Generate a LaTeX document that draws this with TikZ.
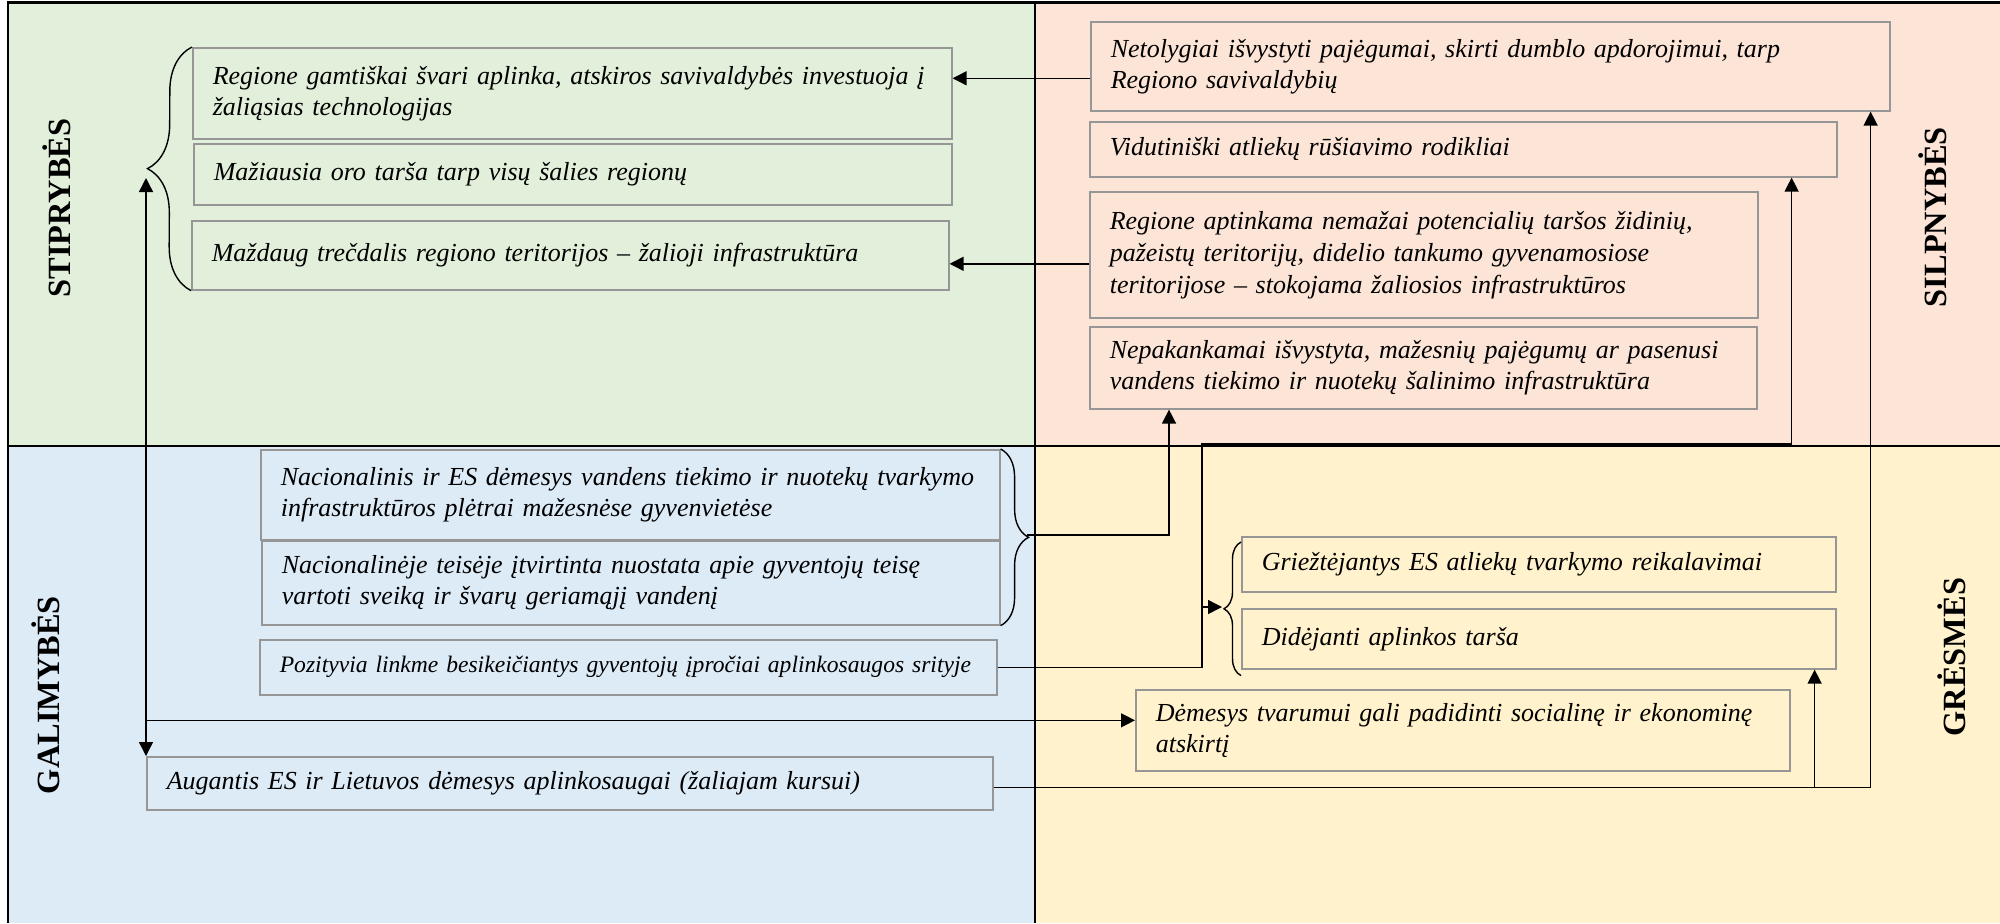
\documentclass[tikz,border=0pt]{standalone}
\usepackage{fontspec}
\setmainfont{Liberation Serif}
\usetikzlibrary{positioning,arrows.meta,decorations.pathreplacing,calc}
\definecolor{strengthgreen}{RGB}{226,239,218}
\definecolor{weakpink}{RGB}{252,228,214}
\definecolor{opporblue}{RGB}{221,235,247}
\definecolor{threatyellow}{RGB}{255,242,204}
\definecolor{boxgray}{RGB}{150,150,150}

\begin{document}
\begin{tikzpicture}[x=0.5pt,y=-0.5pt,
    item/.style={rectangle,draw=boxgray,line width=0.8pt,anchor=north west,inner xsep=10pt,inner ysep=0pt,align=left,font=\fontsize{13}{15.5}\selectfont\itshape},
    smallitem/.style={item,font=\fontsize{11.8}{14}\selectfont\itshape},
    heading/.style={rotate=90,font=\fontsize{16.2}{19}\selectfont\bfseries},
    link/.style={-{Triangle[length=7pt,width=7pt]},line width=0.7pt},
    twoway/.style={{Triangle[length=7pt,width=7pt]}-{Triangle[length=7pt,width=7pt]},line width=0.7pt},
    curly/.style={decorate,decoration={brace,amplitude=#1},line width=0.7pt}
]
    \useasboundingbox (0,0) rectangle (2000,923);
    % Quadrants
    \fill[strengthgreen] (8,3) rectangle (1035,446);
    \fill[weakpink] (1035,3) rectangle (2000,446);
    \fill[opporblue] (8,446) rectangle (1035,923);
    \fill[threatyellow] (1035,446) rectangle (2000,923);
    \draw[line width=1.3pt] (8,923) -- (8,2.5) -- (2000,2.5);
    \draw[line width=1.2pt] (1035,2.5) -- (1035,923);
    \draw[line width=1.2pt] (8,446) -- (2000,446);

    \node[heading] (hS) at (57,208) {STIPRYBĖS};
    \node[heading] (hW) at (1933,217) {SILPNYBĖS};
    \node[heading] (hO) at (46,695) {GALIMYBĖS};
    \node[heading] (hT) at (1952,657) {GRĖSMĖS};

    % Stiprybes
    \node[item,text width=359.5pt,minimum height=45.5pt] (S1) at (192,47) {Regione gamtiškai švari aplinka, atskiros savivaldybės investuoja į\\žaliąsias technologijas};
    \node[item,text width=359pt,minimum height=30.5pt] (S2) at (193,143) {Mažiausia oro tarša tarp visų šalies regionų};
    \node[item,text width=358.5pt,minimum height=34.5pt] (S3) at (191,220) {Maždaug trečdalis regiono teritorijos – žalioji infrastruktūra};

    % Silpnybes
    \node[item,text width=379.5pt,minimum height=44.5pt] (W1) at (1090,21) {Netolygiai išvystyti pajėgumai, skirti dumblo apdorojimui, tarp\\Regiono savivaldybių};
    \node[item,text width=353.5pt,minimum height=27.5pt] (W2) at (1089,121) {Vidutiniški atliekų rūšiavimo rodikliai};
    \node[item,text width=314pt,minimum height=63pt,font=\fontsize{13}{16}\selectfont\itshape] (W3) at (1089,191) {Regione aptinkama nemažai potencialių taršos židinių,\\pažeistų teritorijų, didelio tankumo gyvenamosiose\\teritorijose – stokojama žaliosios infrastruktūros};
    \node[item,text width=313.5pt,minimum height=41pt] (W4) at (1089,326) {Nepakankamai išvystyta, mažesnių pajėgumų ar pasenusi\\vandens tiekimo ir nuotekų šalinimo infrastruktūra};

    % Galimybes
    \node[item,text width=349.5pt,minimum height=45pt] (O1) at (260,449) {Nacionalinis ir ES dėmesys vandens tiekimo ir nuotekų tvarkymo\\infrastruktūros plėtrai mažesnėse gyvenvietėse};
    \node[item,text width=349pt,minimum height=42pt] (O2) at (261,540) {Nacionalinėje teisėje įtvirtinta nuostata apie gyventojų teisę\\vartoti sveiką ir švarų geriamąjį vandenį};
    \node[smallitem,text width=348.5pt,minimum height=27.5pt] (O3) at (259,639) {Pozityvia linkme besikeičiantys gyventojų įpročiai aplinkosaugos srityje};
    \node[item,text width=403pt,minimum height=26.5pt] (O4) at (146,756) {Augantis ES ir Lietuvos dėmesys aplinkosaugai (žaliajam kursui)};

    % Gresmes
    \node[item,text width=277pt,minimum height=27.5pt] (T1) at (1241,536) {Griežtėjantys ES atliekų tvarkymo reikalavimai};
    \node[item,text width=277pt,minimum height=30pt] (T2) at (1241,608) {Didėjanti aplinkos tarša};
    \node[item,text width=307pt,minimum height=40.5pt] (T3) at (1135,689) {Dėmesys tvarumui gali padidinti socialinę ir ekonominę\\atskirtį};

    % Braces
    \draw[curly=22pt] (S3.south west) -- (S1.north west);
    \draw[curly=14pt] (O1.north east) -- (O2.south east);
    \draw[curly=8.5pt] ([yshift=-3pt]T1.north west |- T2.south west) -- ([yshift=-3pt]T1.north west);
    \coordinate (stip) at (146,178);
    \coordinate (otip) at (1027,535);
    \coordinate (ttip) at (1222,607);
    \coordinate (pjn) at (1202,444);
    \coordinate (w4in) at ([xshift=40pt]W4.south west);
    \coordinate (w2in) at ([xshift=-23pt]W2.south east);
    \coordinate (w1in) at ([xshift=-10pt]W1.south east);
    \coordinate (t2in) at ([xshift=-11pt]T2.south east);
    \coordinate (aug) at ([yshift=-2pt]O4.east);

    % Connectors
    \draw[link] ([yshift=-6pt]W1.west) -- ([yshift=-6pt]W1.west -| S1.east);
    \draw[link] ([yshift=-4.5pt]W3.west) -- ([yshift=-4.5pt]W3.west -| S3.east);
    \draw[twoway] (stip) -- (O4.north west);
    \draw[link] ([yshift=5pt]T3.west -| O4.north west) -- ([yshift=5pt]T3.west);
    \draw[link] (otip) -| (w4in);
    \draw[link] (O3.east) -| (pjn) -| (w2in);
    \draw[link] (ttip -| pjn) -- (ttip);
    \draw[link] (aug) -| (w1in);
    \draw[link] (t2in |- aug) -- (t2in);
\end{tikzpicture}
\end{document}
